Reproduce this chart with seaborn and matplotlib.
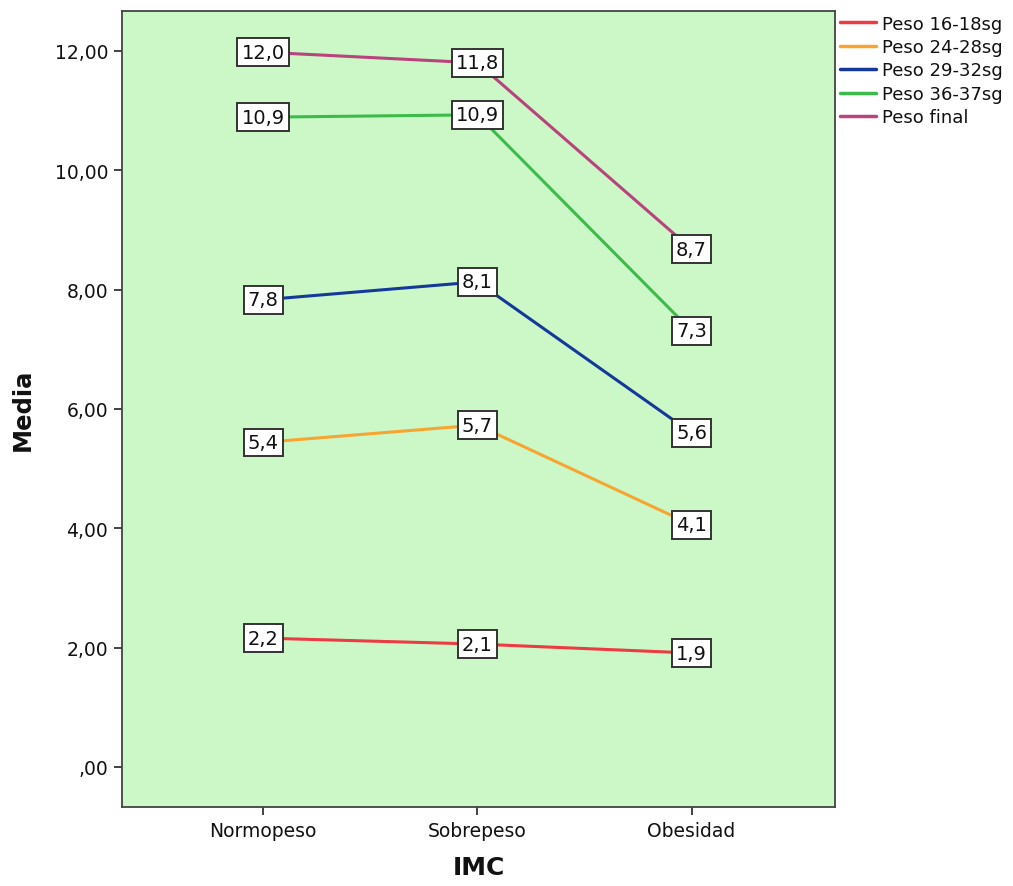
import matplotlib
matplotlib.use("Agg")
import matplotlib.pyplot as plt
import seaborn as sns
import pandas as pd

categories = ["Normopeso", "Sobrepeso", "Obesidad"]
series_names = ["Peso 16-18sg", "Peso 24-28sg", "Peso 29-32sg", "Peso 36-37sg", "Peso final"]
peso_16_18 = [2.16, 2.06, 1.91]
peso_24_28 = [5.44, 5.73, 4.06]
peso_29_32 = [7.83, 8.13, 5.60]
peso_36_37 = [10.89, 10.93, 7.31]
peso_final = [11.98, 11.80, 8.68]
series_values = [peso_16_18, peso_24_28, peso_29_32, peso_36_37, peso_final]
colors = ["#ec3b42", "#f7a530", "#14399a", "#3dbb4a", "#b8437d"]
y_ticks = [0, 2, 4, 6, 8, 10, 12]
y_tick_labels = [",00", "2,00", "4,00", "6,00", "8,00", "10,00", "12,00"]

rows = []
for name, vals in zip(series_names, series_values):
    for i, v in enumerate(vals):
        rows.append({"IMC": i, "Media": v, "serie": name})
df = pd.DataFrame(rows)

sns.set_theme(style="ticks")
plt.rcParams["font.family"] = ["DejaVu Sans"]

fig = plt.figure(figsize=(10.13, 8.87), dpi=100)
ax = fig.add_axes([0.1204, 0.0891, 0.7039, 0.8974])
ax.set_facecolor("#ccf8c8")

sns.lineplot(data=df, x="IMC", y="Media", hue="serie", hue_order=series_names,
             palette=colors, linewidth=2.2, ax=ax, sort=False, legend=True)

for vals in series_values:
    for i, v in enumerate(vals):
        ax.text(i, v, f"{v:.1f}".replace(".", ","), ha="center", va="center",
                fontsize=14, color="#111111", zorder=5,
                bbox=dict(boxstyle="square,pad=0.22", facecolor="white",
                          edgecolor="#333333", linewidth=1.4))

ax.set_xlim(-0.66, 2.67)
ax.set_ylim(-0.67, 12.67)
ax.set_xticks(range(len(categories)))
ax.set_xticklabels(categories, fontsize=13.5, color="#111111")
ax.set_yticks(y_ticks)
ax.set_yticklabels(y_tick_labels, fontsize=13.5, color="#111111")
ax.tick_params(axis="both", direction="out", length=6, width=1.3, color="#333333", pad=4)
for s in ax.spines.values():
    s.set_color("#444444")
    s.set_linewidth(1.3)
ax.set_xlabel("IMC", fontsize=18, fontweight="bold", labelpad=11, color="#111111")
ax.set_ylabel("Media", fontsize=17.5, fontweight="bold", labelpad=14, color="#111111")

leg = ax.legend(loc="upper left", bbox_to_anchor=(1.002, 1.0), frameon=False,
                fontsize=13, handlelength=2.0, handletextpad=0.35,
                labelspacing=0.3, borderaxespad=0.0, borderpad=0.2)
for line in leg.get_lines():
    line.set_linewidth(2.5)
for t in leg.get_texts():
    t.set_color("#111111")

fig.savefig("out.png", dpi=100)
